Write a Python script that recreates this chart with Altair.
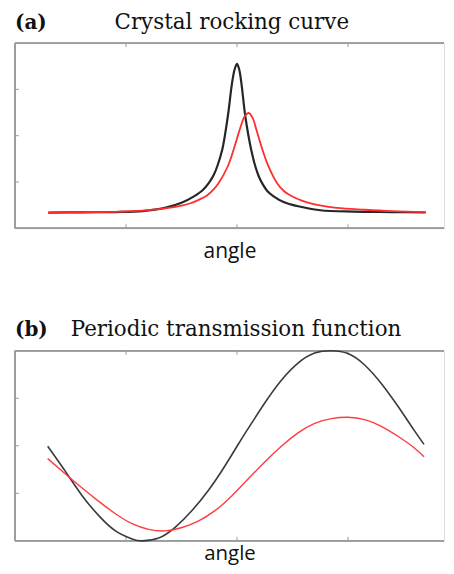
import altair as alt
import pandas as pd

# ---------------- data ----------------
# (a) Crystal rocking curve
a_black_x = [-3.4, -2.8, -2.2, -1.7, -1.3, -1.0, -0.775, -0.62, -0.506, -0.42, -0.355, -0.265, -0.165,
             -0.09, -0.045, 0.0, 0.04, 0.08, 0.15, 0.255, 0.33, 0.39, 0.45, 0.55, 0.66, 0.85, 1.08,
             1.5, 2.1, 2.8, 3.4]
a_black_y = [0.34, 0.345, 0.35, 0.37, 0.44, 0.55, 0.69, 0.82, 0.98, 1.15, 1.34, 1.70, 2.42,
             3.13, 3.42, 3.55, 3.43, 3.13, 2.42, 1.70, 1.34, 1.13, 0.98, 0.80, 0.69, 0.56, 0.48,
             0.39, 0.36, 0.35, 0.34]
a_red_x = [-3.4, -2.8, -2.2, -1.7, -1.3, -1.0, -0.84, -0.68, -0.54, -0.43, -0.33, -0.165, -0.06,
           0.06, 0.14, 0.21, 0.28, 0.35, 0.45, 0.57, 0.72, 0.85, 0.99, 1.18, 1.38, 1.8, 2.3, 2.8, 3.4]
a_red_y = [0.34, 0.345, 0.355, 0.38, 0.43, 0.49, 0.54, 0.62, 0.71, 0.83, 0.98, 1.34, 1.70,
           2.17, 2.42, 2.49, 2.39, 2.13, 1.73, 1.33, 0.98, 0.80, 0.69, 0.59, 0.52, 0.44, 0.40, 0.37, 0.35]

# (b) Periodic transmission function
b_black_x = [-3.41, -3.085, -2.79, -2.49, -2.19, -1.89, -1.71, -1.41, -1.11, -0.81, -0.51, -0.215, 0.08,
             0.20, 0.50, 0.80, 1.10, 1.40, 1.70, 2.00, 2.30, 2.60, 2.90, 3.19, 3.37]
b_black_y = [1.99, 1.45, 0.95, 0.53, 0.21, 0.04, 0.0, 0.06, 0.29, 0.64, 1.07, 1.58, 2.14,
             2.36, 2.90, 3.38, 3.74, 3.95, 4.0, 3.94, 3.70, 3.31, 2.83, 2.33, 2.03]
b_red_x = [-3.41, -3.085, -2.79, -2.49, -2.19, -1.89, -1.59, -1.29, -0.99, -0.69, -0.39, -0.10, 0.20,
           0.50, 0.80, 1.10, 1.40, 1.70, 2.00, 2.30, 2.60, 2.90, 3.19, 3.37]
b_red_y = [1.73, 1.40, 1.11, 0.83, 0.57, 0.36, 0.24, 0.21, 0.28, 0.42, 0.64, 0.94, 1.30,
           1.66, 1.99, 2.27, 2.47, 2.57, 2.60, 2.55, 2.41, 2.20, 1.96, 1.77]

x_ticks = [-2, 0, 2]
y_ticks = [1, 2, 3]
x_domain = [-4, 3.73]
y_domain = [0, 4]

W = 431
GRAY = "#9a9a9a"


def panel(label, title, title_x, bx, by, rx, ry, H, interp, bw, rw, title_pad, title_size,
          bcol, rcol):
    xs = alt.Scale(domain=x_domain, nice=False, zero=False)
    ys = alt.Scale(domain=y_domain, nice=False, zero=False)
    xaxis = alt.Axis(title="angle", domain=False, ticks=False, labels=False, grid=False,
                     titleFont="Open Sans", titleFontSize=title_size, titleFontWeight="normal",
                     titleColor="#111111", titlePadding=title_pad)

    def X(f):
        return alt.X(f"{f}:Q", scale=xs, axis=xaxis)

    def Y(f):
        return alt.Y(f"{f}:Q", scale=ys, axis=None)

    black = alt.Chart(pd.DataFrame({"x": bx, "y": by})).mark_line(
        color=bcol, strokeWidth=bw, interpolate=interp).encode(x=X("x"), y=Y("y"))
    red = alt.Chart(pd.DataFrame({"x": rx, "y": ry})).mark_line(
        color=rcol, strokeWidth=rw, interpolate=interp).encode(x=X("x"), y=Y("y"))

    tx = pd.DataFrame({"x": x_ticks})
    ty = pd.DataFrame({"y": y_ticks})
    frame = [
        alt.Chart(tx).mark_rule(color=GRAY, strokeWidth=1.4).encode(
            x=alt.value(0), x2=alt.value(W), y=alt.value(0)),
        alt.Chart(tx).mark_rule(color=GRAY, strokeWidth=1.4).encode(
            x=alt.value(0), x2=alt.value(W), y=alt.value(H)),
        alt.Chart(tx).mark_rule(color=GRAY, strokeWidth=1.4).encode(
            x=alt.value(0), y=alt.value(0), y2=alt.value(H)),
    ]
    t_bottom = alt.Chart(tx).mark_rule(color=GRAY, strokeWidth=1).encode(
        x=X("x"), y=alt.value(H), y2=alt.value(H - 4))
    t_top = alt.Chart(tx).mark_rule(color=GRAY, strokeWidth=1).encode(
        x=X("x"), y=alt.value(0), y2=alt.value(4))
    t_left = alt.Chart(ty).mark_rule(color=GRAY, strokeWidth=1).encode(
        y=Y("y"), x=alt.value(0), x2=alt.value(4))

    lab = alt.Chart(pd.DataFrame({"t": [label]})).mark_text(
        font="DejaVu Serif", fontSize=20, fontWeight="bold", align="left",
        baseline="alphabetic", color="#111111").encode(
        text="t:N", x=alt.value(0), y=alt.value(-14.5))
    ttl = alt.Chart(pd.DataFrame({"t": [title]})).mark_text(
        font="DejaVu Serif", fontSize=21.5, align="left",
        baseline="alphabetic", color="#111111").encode(
        text="t:N", x=alt.value(title_x), y=alt.value(-14.5))

    return alt.layer(*frame, t_bottom, t_top, t_left, black, red, lab, ttl).properties(
        width=W, height=H)


pa = panel("(a)", "Crystal rocking curve", 100, a_black_x, a_black_y, a_red_x, a_red_y,
           186, "catmull-rom", 2.2, 1.8, 12, 21, "#262626", "#ff2d2d")
pb = panel("(b)", "Periodic transmission function", 56, b_black_x, b_black_y, b_red_x, b_red_y,
           191, "natural", 1.6, 1.4, 3, 20.5, "#3a3a3a", "#ff3c3c")

chart = alt.vconcat(pa, pb, spacing=57).properties(
    padding={"left": 5, "top": 2, "right": 0, "bottom": 0}
).configure_view(stroke=None).configure(background="white")

chart.save("out.html", embed_options={"renderer": "svg", "actions": False})
